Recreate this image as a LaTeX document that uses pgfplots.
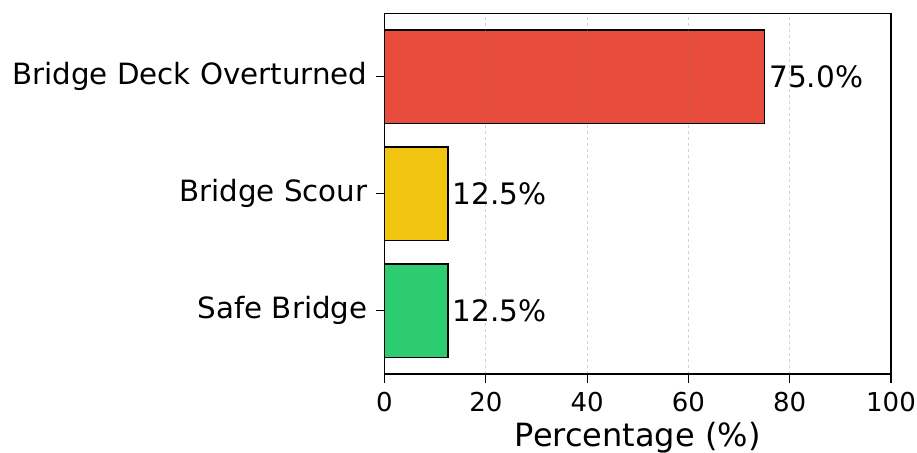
\documentclass[border=0pt]{standalone}
\usepackage{pgfplots}
\pgfplotsset{compat=1.18}
\usepackage{fontspec}
\setmainfont{DejaVu Sans}

\definecolor{barred}{HTML}{E74C3C}
\definecolor{baryellow}{HTML}{F1C40F}
\definecolor{bargreen}{HTML}{2ECC71}

\begin{document}
\begin{tikzpicture}
\begin{axis}[
  scale only axis,
  width=506.5pt, height=360.5pt,
  xbar, bar width=0.8, bar shift=0pt,
  xmin=0, xmax=100,
  ymin=-0.54, ymax=2.54,
  xtick={0,20,40,60,80,100},
  ytick={0,1,2},
  xtick pos=bottom, ytick pos=left,
  yticklabels={Safe Bridge, Bridge Scour, Bridge Deck Overturned},
  /pgf/number format/assume math mode=true,
  x tick label style={font=\fontsize{26}{30}\selectfont, yshift=-6pt},
  y tick label style={font=\fontsize{29.3}{33}\selectfont, xshift=-5pt},
  xlabel={Percentage (\%)},
  xlabel style={font=\fontsize{32}{36}\selectfont, yshift=-4pt},
  tick align=outside,
  major tick length=8.5pt,
  tick style={black, line width=1.2pt},
  axis line style={black, line width=1.6pt},
  xmajorgrids,
  major grid style={gray, opacity=0.35, dashed, line width=1pt},
  axis on top,
  every axis plot/.append style={draw=black, line width=1.5pt},
  nodes near coords={\pgfmathprintnumber[fixed,fixed zerofill,precision=1]{\pgfplotspointmeta}\%},
  every node near coord/.append style={font=\fontsize{29.5}{33}\selectfont, black, anchor=west, xshift=1pt},
  clip=false,
]
\addplot[fill=bargreen] coordinates {(12.5,0)};
\addplot[fill=baryellow] coordinates {(12.5,1)};
\addplot[fill=barred] coordinates {(75.0,2)};
\coordinate (ll) at (rel axis cs:0,0);
\coordinate (ur) at (rel axis cs:1,1);
\end{axis}
% axes frame
\draw[black, line width=1.6pt] (ll) rectangle (ur);
\pgfresetboundingbox
\path[use as bounding box] ([xshift=-384.5pt,yshift=-78pt]ll) rectangle ([xshift=26pt,yshift=13.5pt]ur);
\end{tikzpicture}
\end{document}
